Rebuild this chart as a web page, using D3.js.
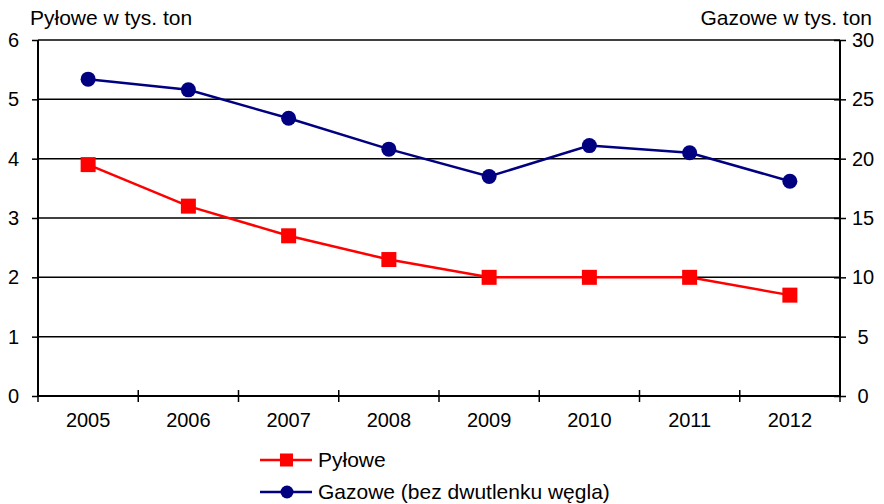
<!DOCTYPE html>
<html>
<head>
<meta charset="utf-8">
<style>
  body { margin: 0; background: #fff; }
  svg { font-family: "Liberation Sans", Arial, sans-serif; }
</style>
</head>
<body>
<div id="chart"></div>
<script src="https://d3js.org/d3.v7.min.js"></script>
<script>
const years = ['2005', '2006', '2007', '2008', '2009', '2010', '2011', '2012'];
const pylowe = [3.9, 3.2, 2.7, 2.3, 2.0, 2.0, 2.0, 1.7];
const gazowe = [26.7, 25.8, 23.4, 20.8, 18.5, 21.1, 20.5, 18.1];
const leftTicks = [0, 1, 2, 3, 4, 5, 6];
const rightTicks = [0, 5, 10, 15, 20, 25, 30];

const width = 884, height = 504;
const m = { left: 38, right: 44, top: 40, bottom: 108 };

const svg = d3.select('#chart').append('svg')
  .attr('width', width)
  .attr('height', height);

const x = d3.scaleBand().domain(years).range([m.left, width - m.right]);
const yL = d3.scaleLinear().domain([0, 6]).range([height - m.bottom, m.top]);
const yR = d3.scaleLinear().domain([0, 30]).range([height - m.bottom, m.top]);

// grid lines
svg.append('g').selectAll('line')
  .data(leftTicks.filter(d => d > 0))
  .enter().append('line')
  .attr('x1', m.left).attr('x2', width - m.right)
  .attr('y1', d => yL(d)).attr('y2', d => yL(d))
  .attr('stroke', '#000').attr('stroke-width', 1.5);

// left axis
const gl = svg.append('g')
  .attr('transform', `translate(${m.left},0)`)
  .call(d3.axisLeft(yL).tickValues(leftTicks).tickFormat(d3.format('d')).tickSize(6).tickPadding(13));

// right axis (labels centred like the original)
const gr = svg.append('g')
  .attr('transform', `translate(${width - m.right},0)`)
  .call(d3.axisRight(yR).tickValues(rightTicks).tickSize(6).tickPadding(0));
gr.selectAll('.tick text').attr('x', 23).attr('text-anchor', 'middle');
gr.selectAll('.tick line').attr('x1', -6);
gl.selectAll('.tick line').attr('x2', -6);

// x axis, ticks on category boundaries
const gx = svg.append('g')
  .attr('transform', `translate(0,${height - m.bottom})`)
  .call(d3.axisBottom(x).tickSize(0).tickPadding(17));
gx.selectAll('.bnd')
  .data(d3.range(years.length + 1))
  .enter().append('line')
  .attr('x1', i => m.left + i * x.step()).attr('x2', i => m.left + i * x.step())
  .attr('y1', -6).attr('y2', 6)
  .attr('stroke', '#000').attr('stroke-width', 1.5);

[gl, gr, gx].forEach(g => {
  g.select('.domain').attr('stroke', '#000').attr('stroke-width', 2);
  g.selectAll('.tick line').attr('stroke', '#000').attr('stroke-width', 1.5);
  g.selectAll('.tick text').attr('fill', '#000').style('font-size', '20px');
});
gx.select('.domain').attr('d', `M${m.left},0H${width - m.right}`);
gl.select('.domain').attr('d', `M0,${m.top}V${height - m.bottom}`);
gr.select('.domain').attr('d', `M0,${m.top}V${height - m.bottom}`);

// axis titles
svg.append('text').attr('x', 30).attr('y', 25)
  .style('font-size', '21px').text('Pyłowe w tys. ton');
svg.append('text').attr('x', 872).attr('y', 25).attr('text-anchor', 'end')
  .style('font-size', '21px').text('Gazowe w tys. ton');

const cx = d => x(d) + x.bandwidth() / 2;

// Gazowe series (right axis)
svg.append('path')
  .datum(gazowe)
  .attr('fill', 'none').attr('stroke', '#000080').attr('stroke-width', 2.5)
  .attr('d', d3.line().x((d, i) => cx(years[i])).y(d => yR(d)));
svg.append('g').selectAll('circle')
  .data(gazowe).enter().append('circle')
  .attr('cx', (d, i) => cx(years[i])).attr('cy', d => yR(d))
  .attr('r', 7.5).attr('fill', '#000080');

// Pylowe series (left axis)
svg.append('path')
  .datum(pylowe)
  .attr('fill', 'none').attr('stroke', '#ff0000').attr('stroke-width', 2.5)
  .attr('d', d3.line().x((d, i) => cx(years[i])).y(d => yL(d)));
svg.append('g').selectAll('rect')
  .data(pylowe).enter().append('rect')
  .attr('x', (d, i) => cx(years[i]) - 7.5).attr('y', d => yL(d) - 7.5)
  .attr('width', 15).attr('height', 15).attr('fill', '#ff0000');

// legend
const legend = [
  { name: 'Pyłowe', color: '#ff0000', shape: 'square' },
  { name: 'Gazowe (bez dwutlenku węgla)', color: '#000080', shape: 'circle' }
];
const lg = svg.append('g').selectAll('g')
  .data(legend).enter().append('g')
  .attr('transform', (d, i) => `translate(260,${460 + i * 32})`);
lg.append('line').attr('x1', 0).attr('x2', 52).attr('y1', 0).attr('y2', 0)
  .attr('stroke', d => d.color).attr('stroke-width', 2.5);
lg.filter(d => d.shape === 'square').append('rect')
  .attr('x', 20).attr('y', -6.5).attr('width', 13).attr('height', 13).attr('fill', d => d.color);
lg.filter(d => d.shape === 'circle').append('circle')
  .attr('cx', 27).attr('cy', 0).attr('r', 6.5).attr('fill', d => d.color);
lg.append('text').attr('x', 58).attr('y', 7)
  .style('font-size', '21px').text(d => d.name);
</script>
</body>
</html>
